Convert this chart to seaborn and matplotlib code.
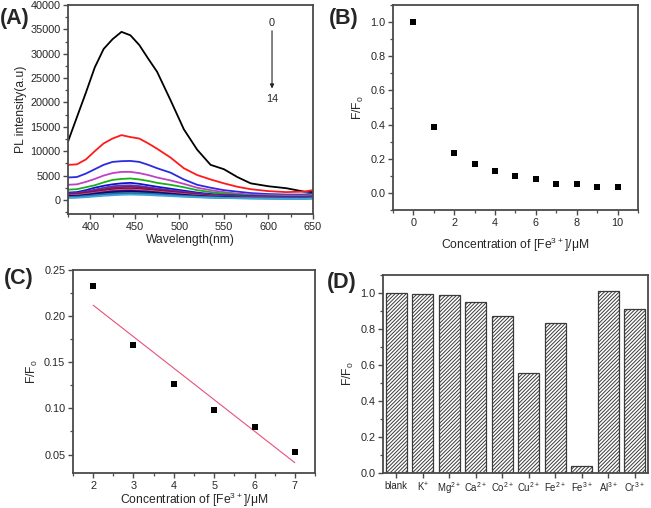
import numpy as np
import pandas as pd
import matplotlib
matplotlib.use("Agg")
import matplotlib.pyplot as plt
from matplotlib.ticker import MultipleLocator
import seaborn as sns

# ---------------- data ----------------
wavelength = [375, 385, 395, 405, 415, 425, 435, 445, 455, 465, 475, 490,
              505, 520, 535, 550, 565, 580, 600, 620, 640, 650]
pl_0 = [12000, 17000, 22000, 27200, 31000, 33000, 34500, 33800, 31800, 29000, 26300, 20500,
        14500, 10300, 7200, 6300, 4700, 3400, 2800, 2400, 1700, 1600]
pl_1 = [7200, 7300, 8300, 10000, 11600, 12600, 13300, 12900, 12600, 11600, 10500, 8700,
        6500, 5100, 4200, 3400, 2700, 2200, 1800, 1600, 1700, 2000]
pl_2 = [4600, 4700, 5400, 6300, 7200, 7800, 7950, 8000, 7800, 7200, 6500, 5600,
        4200, 3100, 2500, 2000, 1700, 1400, 1200, 1100, 1100, 1300]
pl_3 = [3100, 3200, 3700, 4300, 5000, 5500, 5750, 5750, 5500, 5100, 4600, 4000,
        3300, 2500, 2000, 1600, 1300, 1100, 1000, 900, 900, 1000]
pl_4 = [2100, 2200, 2600, 3000, 3600, 4100, 4300, 4400, 4200, 3900, 3500, 3100,
        2600, 2000, 1600, 1300, 1100, 900, 800, 700, 700, 800]
pl_5 = [1500, 1600, 2000, 2500, 2900, 3200, 3400, 3500, 3300, 3000, 2700, 2300,
        1900, 1500, 1200, 1000, 900, 800, 700, 600, 600, 700]
pl_6 = [1300, 1400, 1700, 2100, 2500, 2800, 2950, 3000, 2850, 2600, 2350, 2000,
        1650, 1300, 1050, 900, 800, 700, 600, 550, 550, 600]
pl_7 = [1200, 1300, 1600, 1900, 2200, 2500, 2650, 2700, 2600, 2400, 2150, 1850,
        1500, 1200, 950, 800, 700, 600, 550, 500, 500, 550]
pl_8 = [1000, 1100, 1350, 1650, 1950, 2200, 2350, 2400, 2300, 2150, 1950, 1650,
        1350, 1100, 850, 700, 600, 550, 500, 450, 450, 500]
pl_9 = [900, 1000, 1200, 1450, 1700, 1900, 2050, 2100, 2000, 1850, 1700, 1450,
        1200, 950, 750, 650, 550, 500, 450, 400, 400, 450]
pl_10 = [800, 850, 1050, 1300, 1550, 1750, 1850, 1900, 1800, 1700, 1550, 1300,
         1050, 850, 700, 600, 500, 450, 400, 380, 380, 420]
pl_11 = [700, 750, 900, 1150, 1350, 1500, 1600, 1650, 1600, 1500, 1350, 1150,
         950, 750, 600, 520, 450, 400, 360, 340, 340, 380]
pl_12 = [600, 650, 800, 1000, 1150, 1300, 1400, 1450, 1400, 1300, 1200, 1000,
         820, 680, 550, 470, 400, 360, 320, 300, 300, 330]
pl_13 = [500, 550, 680, 850, 1000, 1100, 1200, 1250, 1200, 1150, 1050, 900,
         750, 600, 500, 420, 360, 320, 290, 270, 270, 300]
pl_14 = [400, 450, 550, 700, 850, 950, 1050, 1100, 1050, 1000, 900, 780,
         650, 530, 440, 380, 330, 290, 260, 240, 240, 270]
pl_curves = [pl_0, pl_1, pl_2, pl_3, pl_4, pl_5, pl_6, pl_7, pl_8, pl_9,
             pl_10, pl_11, pl_12, pl_13, pl_14]

conc_b = [0, 1, 2, 3, 4, 5, 6, 7, 8, 9, 10]
ratio_b = [1.0, 0.385, 0.232, 0.168, 0.126, 0.098, 0.079, 0.052, 0.052, 0.032, 0.032]

conc_c = [2, 3, 4, 5, 6, 7]
ratio_c = [0.233, 0.169, 0.126, 0.098, 0.080, 0.053]

ions = ['blank', 'K$^{+}$', 'Mg$^{2+}$', 'Ca$^{2+}$', 'Co$^{2+}$', 'Cu$^{2+}$',
        'Fe$^{2+}$', 'Fe$^{3+}$', 'Al$^{3+}$', 'Cr$^{3+}$']
ratio_d = [1.0, 0.993, 0.990, 0.950, 0.870, 0.556, 0.835, 0.040, 1.012, 0.911]

# ---------------- style ----------------
sns.set_style("ticks")
plt.rcParams['font.family'] = ['Liberation Sans', 'DejaVu Sans']
plt.rcParams['mathtext.default'] = 'regular'
plt.rcParams['hatch.linewidth'] = 0.7
plt.rcParams['hatch.color'] = '#555555'

spine_col = '#4a4a4a'
tick_fs = 7.8
label_fs = 8.7

fig = plt.figure(figsize=(6.51, 5.08), dpi=100)
axA = fig.add_axes([0.1045, 0.5787, 0.3763, 0.4113])
axB = fig.add_axes([0.6037, 0.5866, 0.3763, 0.4034])
axC = fig.add_axes([0.1121, 0.0689, 0.3718, 0.3996])
axD = fig.add_axes([0.5883, 0.0689, 0.4071, 0.3898])


def style_ax(ax):
    for s in ax.spines.values():
        s.set_color(spine_col)
        s.set_linewidth(1.3)
    ax.tick_params(which='major', direction='out', length=3.5, width=1.0,
                   color=spine_col, labelsize=tick_fs, pad=2)
    ax.tick_params(which='minor', direction='out', length=2, width=0.9,
                   color=spine_col)
    ax.tick_params(top=False, right=False, which='both')


# ---------------- panel A ----------------
rows = []
for i, c in enumerate(pl_curves):
    for w, v in zip(wavelength, c):
        rows.append((w, v, str(i)))
dfA = pd.DataFrame(rows, columns=['wl', 'pl', 'curve'])
colorsA = ['#000000', '#ff1a1a', '#2a2ae0', '#c040c8', '#18b018', '#1010d0',
           '#5a3aa8', '#7a1a7a', '#7a1040', '#d05a90', '#301060', '#000090',
           '#208080', '#3060c0', '#40a8d8']
sns.lineplot(data=dfA, x='wl', y='pl', hue='curve', palette=colorsA, ax=axA,
             legend=False, linewidth=1.3, sort=False)
axA.set_xlim(375, 650)
axA.set_ylim(-2900, 40000)
axA.xaxis.set_major_locator(MultipleLocator(50))
axA.xaxis.set_minor_locator(MultipleLocator(25))
axA.yaxis.set_major_locator(MultipleLocator(5000))
axA.yaxis.set_minor_locator(MultipleLocator(2500))
axA.set_xlabel('Wavelength(nm)', fontsize=label_fs, labelpad=2)
axA.set_ylabel('PL intensity(a.u)', fontsize=label_fs, labelpad=2)
style_ax(axA)
axA.text(604, 36300, '0', fontsize=tick_fs, ha='center', va='center')
axA.annotate('', xy=(604, 22300), xytext=(604, 35300),
             arrowprops=dict(arrowstyle='-|>', color='#222222', lw=0.8,
                             mutation_scale=6))
axA.text(604, 20700, '14', fontsize=tick_fs, ha='center', va='center')

# ---------------- panel B ----------------
dfB = pd.DataFrame({'c': conc_b, 'r': ratio_b})
sns.scatterplot(data=dfB, x='c', y='r', marker='s', s=16, color='black',
                edgecolor='black', linewidth=0, ax=axB)
axB.set_xlim(-1, 11)
axB.set_ylim(-0.1, 1.1)
axB.xaxis.set_major_locator(MultipleLocator(2))
axB.xaxis.set_minor_locator(MultipleLocator(1))
axB.yaxis.set_major_locator(MultipleLocator(0.2))
axB.yaxis.set_minor_locator(MultipleLocator(0.1))
axB.set_xlabel('Concentration of [Fe$^{3+}$]/\u03bcM', fontsize=label_fs, labelpad=6)
axB.set_ylabel('F/F$_0$', fontsize=label_fs, labelpad=3)
style_ax(axB)

# ---------------- panel C ----------------
dfC = pd.DataFrame({'c': conc_c, 'r': ratio_c})
sns.regplot(data=dfC, x='c', y='r', ci=None, scatter=False, truncate=True,
            line_kws=dict(color='#e8507a', linewidth=0.8), ax=axC)
sns.scatterplot(data=dfC, x='c', y='r', marker='s', s=16, color='black',
                edgecolor='black', linewidth=0, ax=axC, zorder=3)
axC.set_xlim(1.5, 7.5)
axC.set_ylim(0.03, 0.25)
axC.xaxis.set_major_locator(MultipleLocator(1))
axC.xaxis.set_minor_locator(MultipleLocator(0.5))
axC.yaxis.set_major_locator(MultipleLocator(0.05))
axC.yaxis.set_minor_locator(MultipleLocator(0.025))
axC.set_xlabel('Concentration of [Fe$^{3+}$]/\u03bcM', fontsize=label_fs, labelpad=0)
axC.set_ylabel('F/F$_0$', fontsize=label_fs, labelpad=3)
style_ax(axC)

# ---------------- panel D ----------------
dfD = pd.DataFrame({'ion': ions, 'r': ratio_d})
sns.barplot(data=dfD, x='ion', y='r', color='white', edgecolor='#3a3a3a',
            linewidth=0.9, width=0.78, ax=axD)
for p in axD.patches:
    p.set_hatch('/////////')
    p.set_facecolor('white')
axD.set_xlim(-0.5, 9.5)
axD.set_ylim(0, 1.1)
axD.yaxis.set_major_locator(MultipleLocator(0.2))
axD.yaxis.set_minor_locator(MultipleLocator(0.1))
axD.set_xlabel('')
axD.set_ylabel('F/F$_0$', fontsize=label_fs, labelpad=3)
style_ax(axD)
axD.tick_params(axis='x', labelsize=6.9)

# panel letters
fig.text(0.0, 0.963, '(A)', fontsize=15.5, fontweight='bold', ha='left', va='center')
fig.text(0.505, 0.963, '(B)', fontsize=15.5, fontweight='bold', ha='left', va='center')
fig.text(0.006, 0.452, '(C)', fontsize=15.5, fontweight='bold', ha='left', va='center')
fig.text(0.502, 0.443, '(D)', fontsize=15.5, fontweight='bold', ha='left', va='center')

fig.savefig('out.png', dpi=100)
